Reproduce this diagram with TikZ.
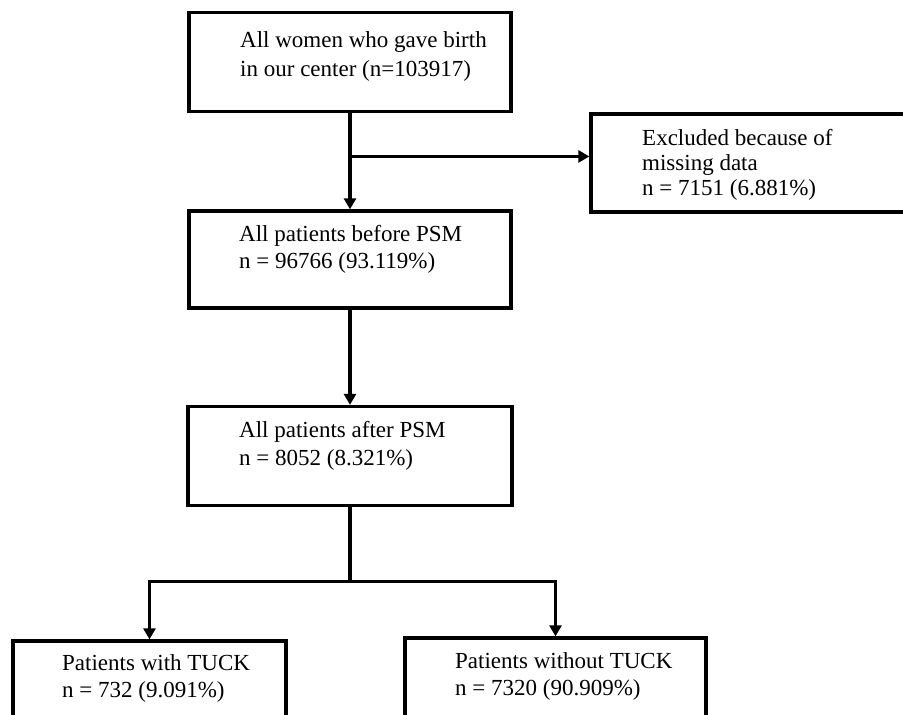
\documentclass[tikz,border=0pt]{standalone}
\usepackage{fontspec}
\setmainfont{Liberation Serif}
\usetikzlibrary{arrows.meta, positioning, calc}

\tikzset{
  flowbox/.style={draw=black, line width=3.3pt, inner sep=0pt},
  boxtext/.style={anchor=base west, align=left, inner sep=0pt,
                  font=\fontsize{23}{#1}\selectfont},
  boxtext/.default=27,
  flowline/.style={line width=3.3pt},
  flowarrow/.style={line width=3.3pt, -{Triangle[length=11pt,width=12pt]}}
}

\begin{document}
\begin{tikzpicture}[x=1pt, y=-1pt]
\clip (0,0) rectangle (903,715);
% boxes
\node[flowbox, minimum width=322pt, minimum height=99pt] (women) at (350,62) {};
\node[flowbox, minimum width=322pt, minimum height=98pt] (excluded) at (752,163) {};
\node[flowbox, minimum width=322pt, minimum height=97pt] (before) at (350,259.5) {};
\node[flowbox, minimum width=324pt, minimum height=99pt] (after) at (350,456) {};
\node[flowbox, minimum width=273pt, minimum height=120pt] (withtuck) at (149.5,701) {};
\node[flowbox, minimum width=301pt, minimum height=120pt] (notuck) at (555.5,698) {};

% texts (placed by the baseline of their last line)
\node[boxtext=29] (womentxt) at (240,76) {All women who gave birth\\in our center (n=103917)};
\node[boxtext=25] (excludedtxt) at (642,195) {Excluded because of\\missing data\\n = 7151 (6.881\%)};
\node[boxtext] (beforetxt) at (239,268) {All patients before PSM\\n = 96766 (93.119\%)};
\node[boxtext=28] (aftertxt) at (239,465) {All patients after PSM\\n = 8052 (8.321\%)};
\node[boxtext] (withtxt) at (62,697) {Patients with TUCK\\n = 732 (9.091\%)};
\node[boxtext] (notxt) at (455,695) {Patients without TUCK\\n = 7320 (90.909\%)};

% connectors
\coordinate (split1) at ($(women.south)!0.45!(before.north)$);
\draw[flowarrow] (women.south) -- (before.north);
\draw[flowarrow] (split1) -- (split1 -| excluded.west);
\draw[flowarrow] (before.south) -- (after.north);
\coordinate (split2) at ($(after.south)+(0,74)$);
\draw[flowline] (after.south) -- (split2);
\draw[flowarrow] (split2) -| (withtuck.north);
\draw[flowarrow] (split2) -| (notuck.north);
\end{tikzpicture}
\end{document}
